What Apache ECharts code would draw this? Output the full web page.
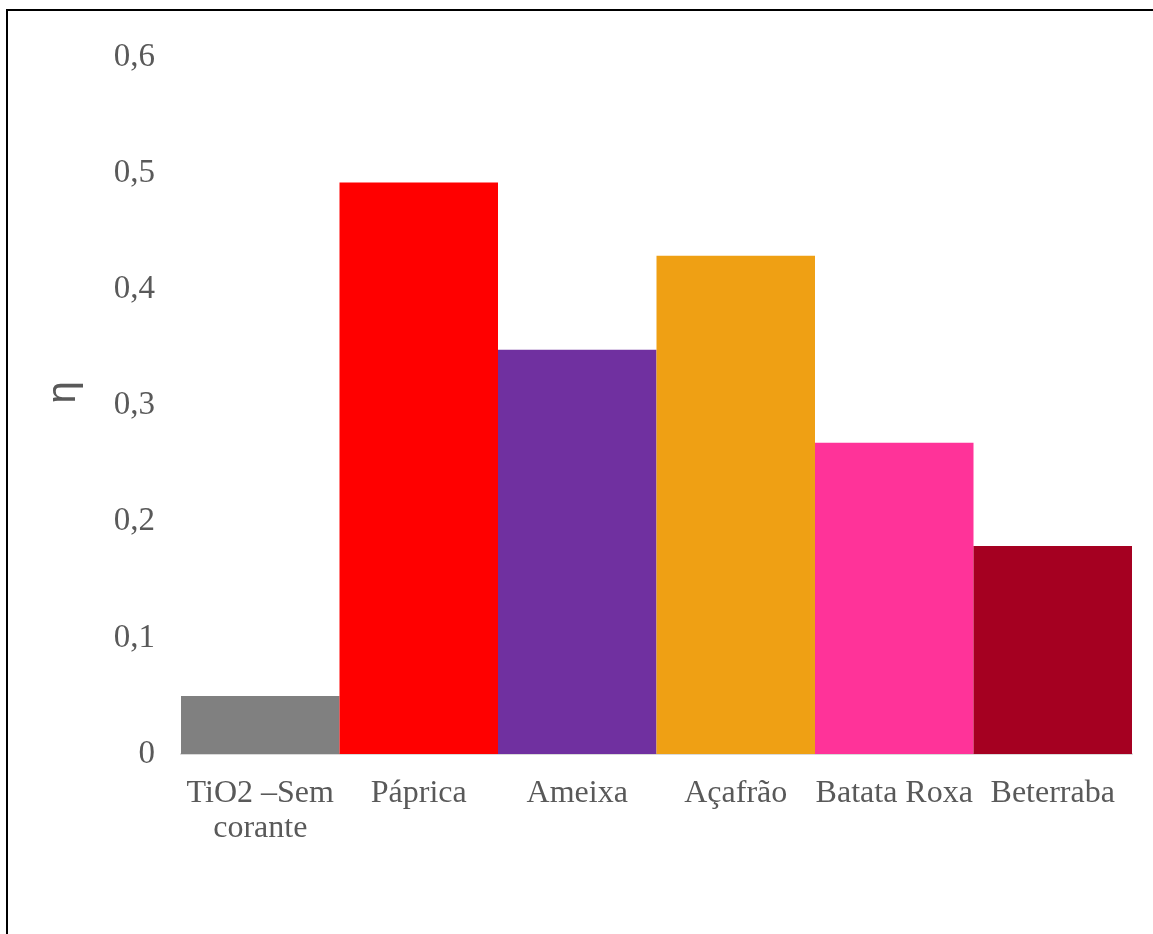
<!DOCTYPE html>
<html>
<head>
<meta charset="utf-8">
<script src="https://cdn.jsdelivr.net/npm/echarts@6/dist/echarts.min.js"></script>
<style>
html,body{margin:0;padding:0;background:#fff;overflow:hidden;width:1153px;height:934px;}
#chart{position:absolute;left:0;top:0;width:1153px;height:934px;}
</style>
</head>
<body>
<div id="chart"></div>
<script>
const categories = ['TiO2 –Sem\ncorante', 'Páprica', 'Ameixa', 'Açafrão', 'Batata Roxa', 'Beterraba'];
const values = [0.05, 0.492, 0.348, 0.429, 0.268, 0.179];
const barColors = ['#808080', '#ff0000', '#7030a0', '#efa014', '#ff3399', '#a50021'];
const yTicks = { min: 0, max: 0.6, interval: 0.1 };
const yName = 'η';

const chart = echarts.init(document.getElementById('chart'));
chart.setOption({
  animation: false,
  backgroundColor: '#fff',
  graphic: [
    { type: 'line', shape: { x1: 6, y1: 10, x2: 1160, y2: 10 }, style: { stroke: '#000', lineWidth: 2 } },
    { type: 'line', shape: { x1: 7, y1: 9, x2: 7, y2: 940 }, style: { stroke: '#000', lineWidth: 2 } }
  ],
  grid: { left: 181, right: 21, top: 57, bottom: 180, containLabel: false },
  xAxis: {
    type: 'category',
    data: categories,
    axisLine: { show: true, lineStyle: { color: '#d9d9d9', width: 2 } },
    axisTick: { show: false },
    axisLabel: {
      color: '#595959',
      fontFamily: 'Liberation Serif',
      fontSize: 32,
      lineHeight: 35,
      margin: 22,
      interval: 0
    }
  },
  yAxis: {
    type: 'value',
    min: yTicks.min,
    max: yTicks.max,
    interval: yTicks.interval,
    name: yName,
    nameLocation: 'middle',
    nameGap: 97,
    nameTextStyle: { color: '#595959', fontFamily: 'Liberation Sans', fontSize: 40, padding: [0, 0, 0, 26] },
    axisLine: { show: false },
    axisTick: { show: false },
    splitLine: { show: false },
    axisLabel: {
      color: '#595959',
      fontFamily: 'Liberation Serif',
      fontSize: 33,
      margin: 26,
      formatter: v => (Math.round(v * 10) / 10).toString().replace('.', ',')
    }
  },
  series: [{
    type: 'bar',
    data: values.map((v, i) => ({ value: v, itemStyle: { color: barColors[i] } })),
    barCategoryGap: '0%',
    barGap: '0%'
  }]
});
</script>
</body>
</html>
